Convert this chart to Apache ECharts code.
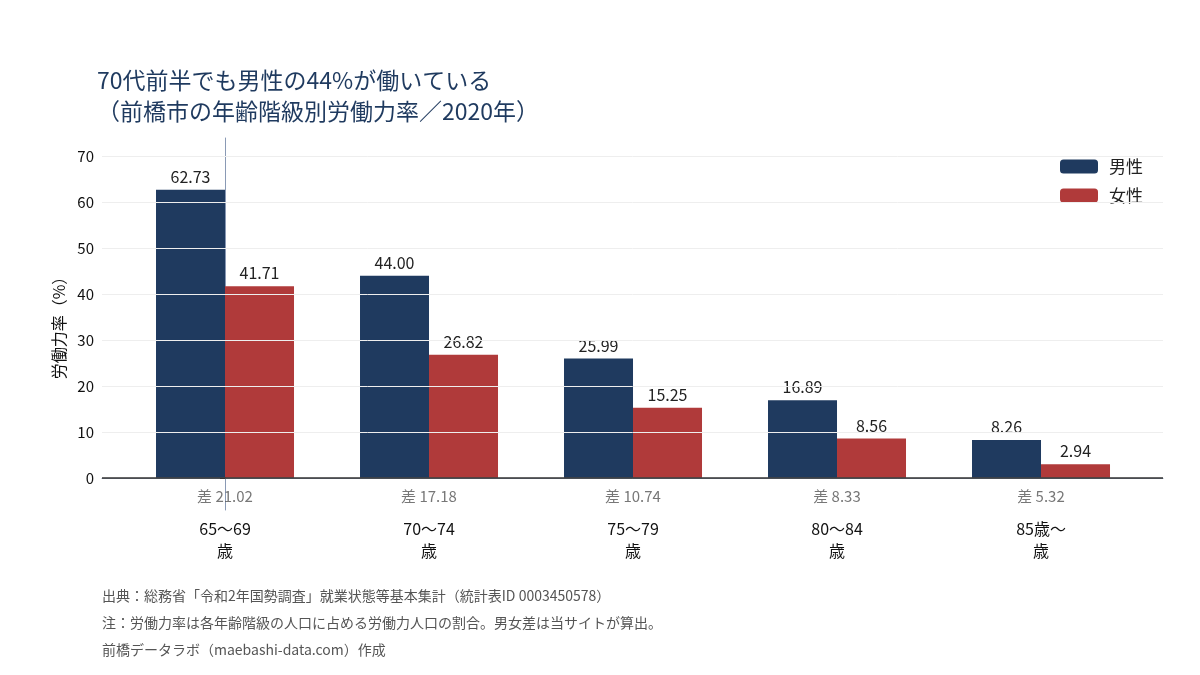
<!DOCTYPE html>
<html>
<head>
<meta charset="utf-8"/>
<script src="https://cdn.jsdelivr.net/npm/echarts@6/dist/echarts.min.js"></script>
<style>body{margin:0}#main{width:1200px;height:675px}</style>
</head>
<body>
<div id="main"></div>
<script>
var ages = ['65〜69\n歳', '70〜74\n歳', '75〜79\n歳', '80〜84\n歳', '85歳〜\n歳'];
var male = [62.73, 44.00, 25.99, 16.89, 8.26];
var female = [41.71, 26.82, 15.25, 8.56, 2.94];
var diffs = [21.02, 17.18, 10.74, 8.33, 5.32];
var yTicks = [0, 10, 20, 30, 40, 50, 60, 70];

var font = '"Noto Sans CJK JP", "Noto Sans", sans-serif';
var chart = echarts.init(document.getElementById('main'));

chart.setOption({
    textStyle: {fontFamily: font},
    title: {
        text: '70代前半でも男性の44%が働いている\n（前橋市の年齢階級別労働力率／2020年）',
        left: 92, top: 60,
        textStyle: {color: '#1f3a5f', fontSize: 23, fontWeight: 'normal', lineHeight: 31, fontFamily: font}
    },
    legend: {
        right: 52, top: 153, orient: 'vertical', itemGap: 12,
        itemWidth: 38, itemHeight: 14,
        textStyle: {fontSize: 17, color: '#222', padding: [0, 0, 0, 6]},
        data: ['男性', '女性']
    },
    grid: {left: 102, right: 37, top: 138, bottom: 165},
    xAxis: {
        type: 'value', min: -0.603, max: 4.598,
        splitLine: {show: false},
        axisLine: {show: true, lineStyle: {color: '#8a9ab5'}},
        axisTick: {show: false},
        axisLabel: {
            customValues: [0, 1, 2, 3, 4],
            formatter: function (v) { return ages[Math.round(v)]; },
            fontSize: 16, color: '#111', lineHeight: 22, margin: 8
        }
    },
    yAxis: {
        type: 'value', min: -7, max: 74,
        name: '労働力率（%）', nameLocation: 'middle', nameGap: 34,
        nameTextStyle: {fontSize: 16, color: '#111'},
        splitLine: {show: false},
        axisLine: {show: true, lineStyle: {color: '#8a9ab5'}},
        axisTick: {show: true, customValues: yTicks, lineStyle: {color: '#333'}},
        axisLabel: {customValues: yTicks, fontSize: 15, color: '#111'}
    },
    series: [
        {
            name: '男性', type: 'bar', barWidth: 69, barGap: '0%',
            itemStyle: {color: '#1f3a5f'},
            data: male.map(function (v, i) { return [i, v]; }),
            label: {show: true, position: 'top', fontSize: 16, color: '#222',
                formatter: function (p) { return p.value[1].toFixed(2); }},
            markLine: {
                silent: true, symbol: 'none', label: {show: false},
                data: yTicks.map(function (t) {
                    return {yAxis: t, lineStyle: t === 0 ? {color: '#333', width: 1.5, type: 'solid'} : {color: '#eeeeee', width: 1, type: 'solid'}};
                })
            }
        },
        {
            name: '女性', type: 'bar', barWidth: 69,
            itemStyle: {color: '#b03a3a'},
            data: female.map(function (v, i) { return [i, v]; }),
            label: {show: true, position: 'top', fontSize: 16, color: '#222',
                formatter: function (p) { return p.value[1].toFixed(2); }}
        },
        {
            name: 'diff', type: 'scatter', symbolSize: 0, silent: true,
            data: diffs.map(function (d, i) { return [i, -4]; }),
            label: {show: true, position: 'inside', fontSize: 15, color: '#555',
                formatter: function (p) { return '差 ' + diffs[p.dataIndex].toFixed(2); }}
        }
    ],
    graphic: [{
        type: 'text', left: 102, top: 582,
        style: {
            text: '出典：総務省「令和2年国勢調査」就業状態等基本集計（統計表ID 0003450578）\n注：労働力率は各年齢階級の人口に占める労働力人口の割合。男女差は当サイトが算出。\n前橋データラボ（maebashi-data.com）作成',
            fill: '#555', font: '14px ' + font, lineHeight: 27
        }
    }]
});
</script>
</body>
</html>
